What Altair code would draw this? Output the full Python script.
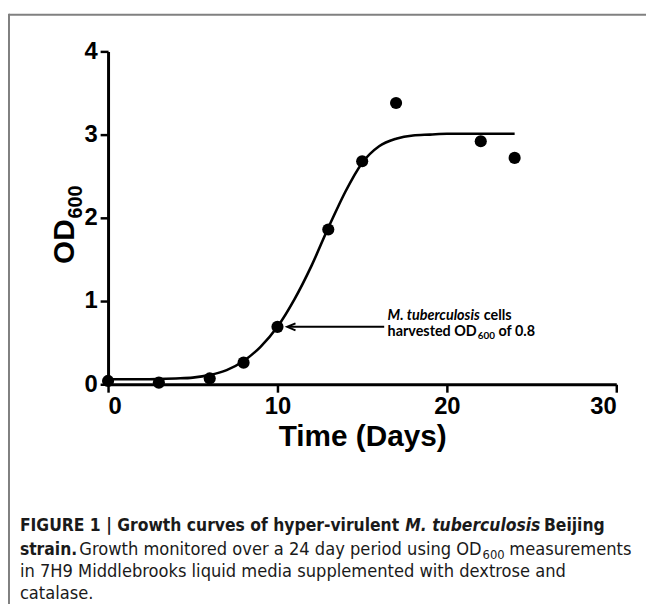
import altair as alt
import pandas as pd

# ---- data ----
days = [0, 3, 6, 8, 10, 13, 15, 17, 22, 24]
od600 = [0.04, 0.02, 0.07, 0.26, 0.69, 1.86, 2.68, 3.38, 2.92, 2.72]

fit_days = [0, 2, 4, 5, 6, 7, 8, 9, 10, 11, 12, 13, 13.5, 14, 15, 16, 17, 18, 19, 20, 22, 24]
fit_od = [0.06, 0.06, 0.07, 0.08, 0.11, 0.17, 0.28, 0.45, 0.69, 1.02, 1.42, 1.88, 2.10, 2.31,
          2.66, 2.86, 2.95, 2.99, 3.00, 3.01, 3.01, 3.01]

x_ticks = [0, 10, 20, 30]
y_ticks = [0, 1, 2, 3, 4]

arrow_from = 16.3
arrow_to = 10.6
arrow_level = 0.69
note_x = 16.5
note_y1 = 0.77
note_y2 = 0.58

caption_texts = [
    "FIGURE 1 | Growth curves of hyper-virulent",
    "M. tuberculosis",
    "Beijing",
    "strain.",
    "Growth monitored over a 24 day period using OD",
    "600",
    "measurements",
    "in 7H9 Middlebrooks liquid media supplemented with dextrose and",
    "catalase.",
]

W, H = 513, 336
BLACK = "#000000"
AX_FONT = "Liberation Sans"
CAP_FONT = "DejaVu Sans Condensed, Liberation Sans Narrow, Liberation Sans, sans-serif"
NOTE_FONT = "Lato, Open Sans, sans-serif"

pts = pd.DataFrame({"day": days, "od": od600})
fit = pd.DataFrame({"day": fit_days, "od": fit_od})

xs = alt.Scale(domain=[0, 30], nice=False, zero=False)
ys = alt.Scale(domain=[0, 4], nice=False)

axis_common = dict(
    grid=False, domainColor=BLACK, domainWidth=3, tickColor=BLACK, tickWidth=2.5,
    tickSize=8, labelFont=AX_FONT, labelFontWeight="bold", labelFontSize=24,
    labelColor=BLACK,
)
xaxis = alt.Axis(values=x_ticks, title="Time (Days)", titleFont=AX_FONT, titleFontSize=30,
                 titleFontWeight="bold", titleColor=BLACK, titlePadding=3, labelPadding=3,
                 format="d", **axis_common)
yaxis = alt.Axis(values=y_ticks, title=None, labelPadding=3, format="d", **axis_common)

curve = alt.Chart(fit).mark_line(color=BLACK, strokeWidth=2.6, interpolate="monotone").encode(
    x=alt.X("day:Q", scale=xs, axis=xaxis),
    y=alt.Y("od:Q", scale=ys, axis=yaxis),
)
dots = alt.Chart(pts).mark_circle(size=150, color=BLACK, opacity=1).encode(
    x=alt.X("day:Q", scale=xs),
    y=alt.Y("od:Q", scale=ys),
)

one = alt.Data(values=[{}])

arrow = alt.Chart(one).mark_rule(color=BLACK, strokeWidth=2).encode(
    x=alt.datum(arrow_from), x2=alt.datum(arrow_to + 0.1), y=alt.datum(arrow_level)
)
head = alt.Chart(one).mark_point(
    shape="M 1 -0.85 L -1 0 L 1 0.85", filled=False, color=BLACK, strokeWidth=2, size=70, opacity=1
).encode(x=alt.datum(arrow_to + 0.22), y=alt.datum(arrow_level))

def note(text, y, dx, size=14.5, style="normal", dy=0):
    return alt.Chart(one).mark_text(
        text=text, align="left", baseline="alphabetic", font=NOTE_FONT, fontSize=size,
        fontWeight="bold", fontStyle=style, color=BLACK, dx=dx, dy=dy
    ).encode(x=alt.datum(note_x), y=alt.datum(y))

notes = [
    note("M. tuberculosis", note_y1, 0, style="italic"),
    note("cells", note_y1, 97),
    note("harvested OD", note_y2, 0),
    note("600", note_y2, 91, size=10, dy=3),
    note("of 0.8", note_y2, 112),
]

def ytitle(text, x, y, size):
    return alt.Chart(one).mark_text(
        text=text, align="center", baseline="alphabetic", angle=270, font=AX_FONT,
        fontSize=size, fontWeight="bold", color=BLACK
    ).encode(x=alt.value(x), y=alt.value(y))

ytitles = [ytitle("OD", -34, 192, 30), ytitle("600", -26, 152, 20)]

def cap(text, x, y, weight="normal", style="normal", size=18.3):
    return alt.Chart(one).mark_text(
        text=text, align="left", baseline="alphabetic", font=CAP_FONT, fontSize=size,
        fontWeight=weight, fontStyle=style, color="#1a1a1a"
    ).encode(x=alt.value(x), y=alt.value(y))

L = -89
b1, b2, b3, b4 = 484, 508, 531, 553
caps = [
    cap(caption_texts[0], L, b1, "bold", size=17.5),
    cap(caption_texts[1], 300, b1, "bold", "italic", size=17.5),
    cap(caption_texts[2], 440, b1, "bold", size=17.5),
    cap(caption_texts[3], L, b2, "bold", size=17.5),
    cap(caption_texts[4], -29, b2),
    cap(caption_texts[5], 378, b2 + 4, size=13),
    cap(caption_texts[6], 405, b2),
    cap(caption_texts[7], L, b3),
    cap(caption_texts[8], L, b4),
]

GRAY = "#808080"
frame_top = alt.Chart(one).mark_rule(color=GRAY, strokeWidth=2).encode(
    x=alt.value(-100), x2=alt.value(543), y=alt.value(-37)
)
frame_left = alt.Chart(one).mark_rule(color=GRAY, strokeWidth=2).encode(
    x=alt.value(-100), y=alt.value(-38), y2=alt.value(560)
)

chart = alt.layer(
    frame_top, frame_left, curve, dots, arrow, head, *notes, *ytitles, *caps
).properties(
    width=W, height=H,
    autosize=alt.AutoSizeParams(type="none"),
    padding={"left": 101, "top": 41, "right": 30, "bottom": 219},
    background="white",
).configure_view(strokeWidth=0)

chart.save("out.html", embed_options={"renderer": "svg", "actions": False})
